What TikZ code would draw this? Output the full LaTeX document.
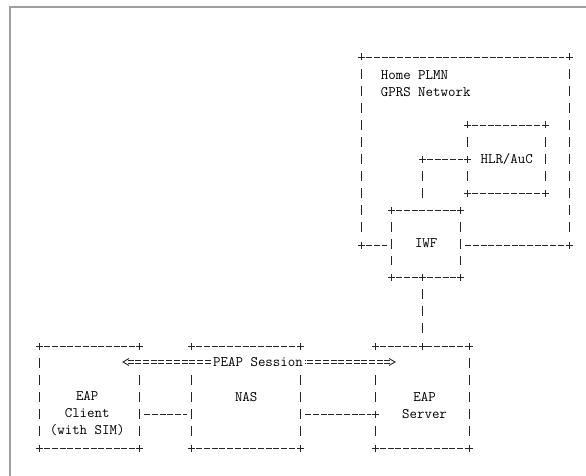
\documentclass[tikz,border=0pt]{standalone}
\usetikzlibrary{calc}

\newcommand{\ttxt}{\fontsize{14.5}{17}\selectfont\ttfamily}

% a "+" of the ascii art, cleared underneath
\newcommand{\asciiplus}[1]{%
  \fill[white] ([shift={(-4,-5.5)}]#1) rectangle ([shift={(4,5.5)}]#1);
  \draw[asciiline] ([xshift=-3.5pt]#1) -- ([xshift=3.5pt]#1)
                   ([yshift=-3.5pt]#1) -- ([yshift=3.5pt]#1);}

% a box of dashes and bars with "+" corners
\newcommand{\asciibox}[1]{%
  \draw[hdash] (#1.north west) -- (#1.north east);
  \draw[hdash] (#1.south west) -- (#1.south east);
  \draw[vdash] (#1.north west) -- (#1.south west);
  \draw[vdash] (#1.north east) -- (#1.south east);
  \asciiplus{#1.north west}\asciiplus{#1.north east}
  \asciiplus{#1.south west}\asciiplus{#1.south east}}

\begin{document}
\begin{tikzpicture}[x=1pt, y=-1pt,
    asciiline/.style={draw=black!85, line width=0.9pt},
    hdash/.style={asciiline, dash pattern=on 6pt off 1.7pt, shorten <=4.6pt, shorten >=4.6pt},
    vdash/.style={asciiline, dash pattern=on 10pt off 7pt, shorten <=12pt, shorten >=12pt},
    eqdash/.style={hdash, shorten >=1.5pt, double=white, double distance=2.2pt},
    box/.style={rectangle, inner sep=0pt, outer sep=0pt, anchor=north west, font=\ttxt},
    txt/.style={font=\ttxt, inner sep=0pt, text=black}]
    % Background and frame
    \useasboundingbox (0,0) rectangle (586,476);
    \fill[white] (0,0) rectangle (586,476);
    \draw[gray!75, line width=1.2pt] (10,476) -- (10,7) -- (586,7);

    % Boxes
    \node[box, minimum width=207.3pt, minimum height=188pt] (plmn) at (361.7,57) {};
    \node[box, minimum width=78pt, minimum height=68pt] (hlr) at (467.7,125) {HLR/AuC};
    \node[box, minimum width=69pt, minimum height=67pt] (iwf) at (391.7,210) {IWF};
    \node[box, minimum width=100pt, minimum height=102pt] (client) at (39.7,346) {};
    \node[box, minimum width=109pt, minimum height=102pt] (nas) at (191.7,346) {NAS};
    \node[box, minimum width=94.5pt, minimum height=102pt] (server) at (375.3,346) {};

    % Labels
    \node[txt, align=left, anchor=north west] (plmnlbl) at ([shift={(19,13.3)}]plmn.north west) {Home PLMN\\GPRS Network};
    \node[txt, align=center] (clientlbl) at ([shift={(-2.5,17)}]client.center) {EAP\\Client\\(with SIM)};
    \node[txt, align=center] (serverlbl) at ([shift={(2,8.5)}]server.center) {EAP\\Server};

    % Home PLMN, bottom side broken by IWF
    \draw[hdash] (plmn.north west) -- (plmn.north east);
    \draw[vdash] (plmn.north west) -- (plmn.south west);
    \draw[vdash] (plmn.north east) -- (plmn.south east);
    \draw[hdash] (plmn.south west) -- (plmn.south -| iwf.west);
    \draw[hdash] (plmn.south -| iwf.east) -- (plmn.south east);
    \asciiplus{plmn.north west}\asciiplus{plmn.north east}
    \asciiplus{plmn.south west}\asciiplus{plmn.south east}

    \asciibox{hlr}
    \asciibox{iwf}
    \asciibox{client}
    \asciibox{nas}
    \asciibox{server}

    % HLR/AuC -- IWF
    \coordinate (bend) at (422.3,159);
    \draw[hdash] (bend) -- (hlr.west);
    \draw[vdash] (bend) -- (bend |- iwf.north);
    \asciiplus{bend}\asciiplus{hlr.west}

    % IWF -- EAP Server
    \coordinate (iwfdrop) at (iwf.south -| bend);
    \coordinate (srvtop) at (server.north -| bend);
    \draw[vdash] (iwfdrop) -- (srvtop);
    \asciiplus{iwfdrop}\asciiplus{srvtop}

    % EAP Client -- NAS -- EAP Server
    \coordinate (clientlink) at ([yshift=-17pt]client.east);
    \coordinate (naslinkl) at ([yshift=-17pt]nas.west);
    \coordinate (naslinkr) at ([yshift=-17pt]nas.east);
    \coordinate (srvlink) at ([yshift=-17pt]server.west);
    \draw[hdash] (clientlink) -- (naslinkl);
    \draw[hdash] (naslinkr) -- (srvlink);
    \asciiplus{srvlink}

    % PEAP Session
    \coordinate (peapL) at (123,362);
    \coordinate (peapR) at (395,362);
    \fill[white] ([yshift=6pt]peapL) rectangle ([yshift=-6pt]peapR);
    \node[txt] (peap) at (258,362) {PEAP Session};
    \draw[eqdash] (peapL) -- (peap.west);
    \draw[eqdash] (peapR) -- (peap.east);
    \draw[asciiline] ([shift={(6,-3.5)}]peapL) -- (peapL) -- ([shift={(6,3.5)}]peapL);
    \draw[asciiline] ([shift={(-6,-3.5)}]peapR) -- (peapR) -- ([shift={(-6,3.5)}]peapR);
\end{tikzpicture}
\end{document}
